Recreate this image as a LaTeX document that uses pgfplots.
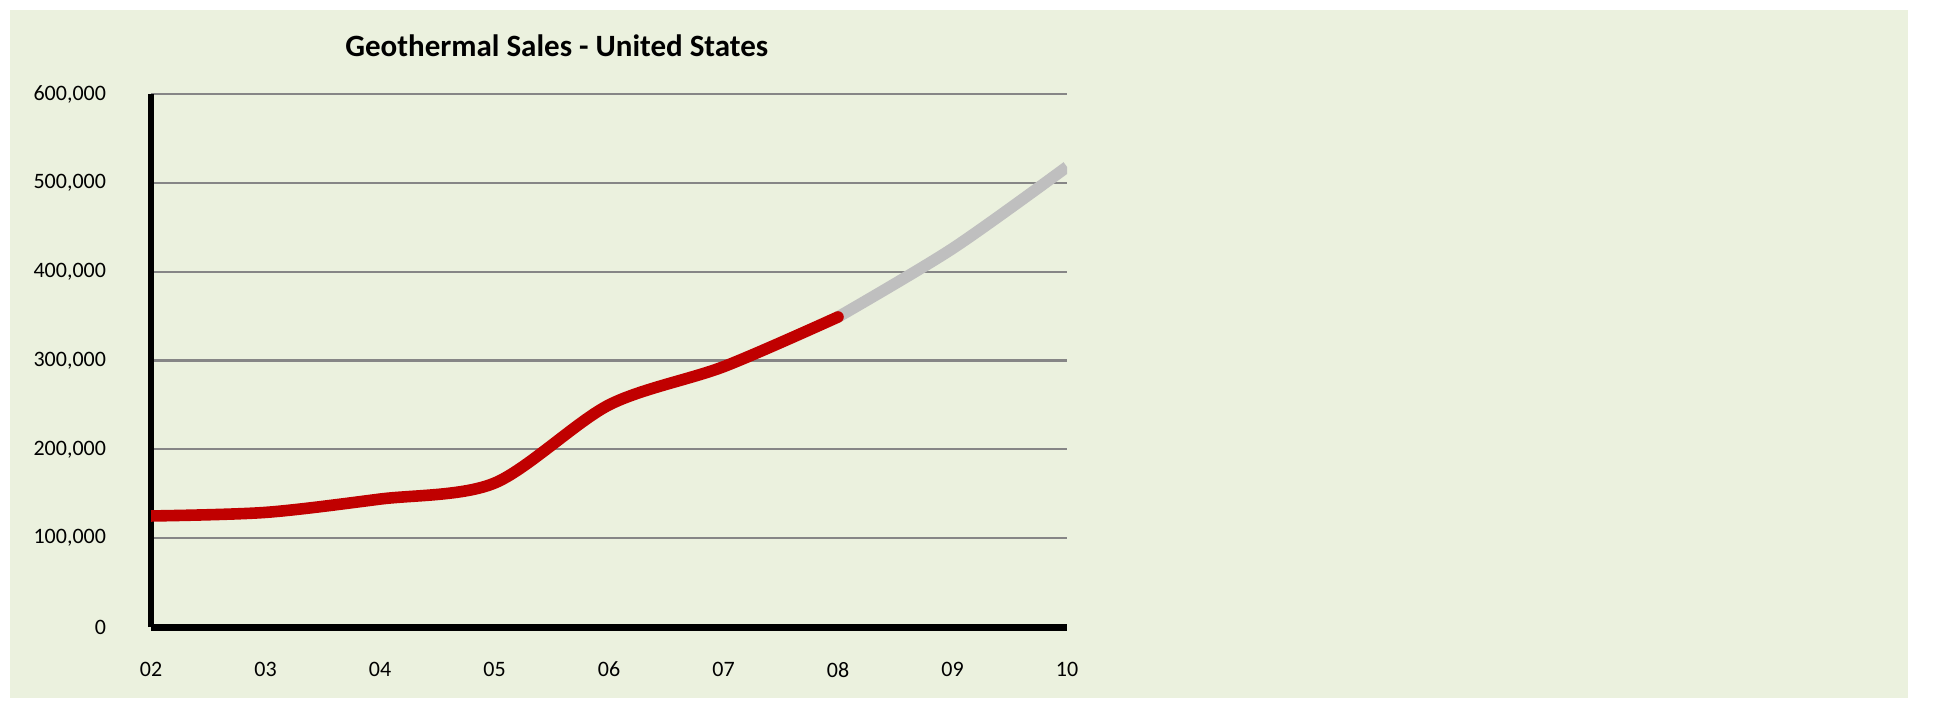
\documentclass[border=0pt]{standalone}
\usepackage{pgfplots}
\pgfplotsset{compat=1.18}
\usepackage{fontspec}
\setmainfont{Carlito}
\definecolor{bgc}{HTML}{EBF1DE}
\definecolor{redc}{HTML}{C00000}
\definecolor{grayc}{HTML}{BFBFBF}
\definecolor{gridc}{HTML}{868686}
\begin{document}
\begin{tikzpicture}
\fill[white] (0,0) rectangle (966.5pt,354pt);
\fill[bgc] (5pt,5pt) rectangle (954pt,349pt);
\begin{axis}[
  at={(75.5pt,40.5pt)}, anchor=south west,
  scale only axis, width=458pt, height=266.5pt,
  xmin=2, xmax=10, ymin=0, ymax=600000,
  scaled y ticks=false,
  xtick={2,...,10},
  xticklabels={02,03,04,05,06,07,08,09,10},
  ytick={0,100000,200000,300000,400000,500000,600000},
  yticklabels={0,{100,000},{200,000},{300,000},{400,000},{500,000},{600,000}},
  major tick length=0pt,
  ymajorgrids, grid style={draw=gridc, line width=1.1pt},
  axis x line*=bottom, axis y line*=left,
  x axis line style={line width=3.5pt, -, black},
  y axis line style={line width=2.6pt, -, black},
  ticklabel style={font=\fontsize{11}{13}\selectfont},
  yticklabel shift=19pt,
  xticklabel shift=14pt,
  title={Geothermal Sales - United States},
  title style={font=\fontsize{15.5}{18}\selectfont\bfseries, at={(0.443,1)}, anchor=center, yshift=18pt},
  /pgf/number format/assume math mode=true,
]
\addplot[grayc, line width=5.8pt, smooth] coordinates {(8,349000) (9,426000) (10,518000)};
\addplot[redc, line width=5.8pt, smooth, line cap=round] coordinates {(2,125000) (3,129000) (4,144000) (5,162000) (6,250000) (7,293000) (8,349000)};
\end{axis}
\end{tikzpicture}
\end{document}
